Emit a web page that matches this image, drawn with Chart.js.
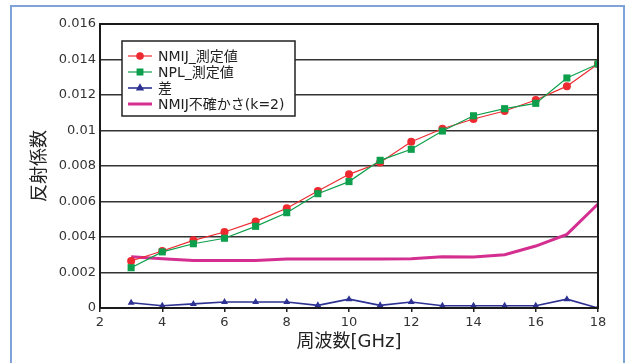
<!DOCTYPE html>
<html lang="ja">
<head>
<meta charset="utf-8">
<script src="https://cdn.jsdelivr.net/npm/chart.js@4.4.1/dist/chart.umd.min.js"></script>
<style>
  html, body { margin: 0; padding: 0; background: #fff; }
  #wrap { position: relative; width: 627px; height: 363px; overflow: hidden; }
  #frame { position: absolute; left: 10px; top: 5px; width: 611px; height: 400px; border: 2px solid #7fa2d8; }
  #chart { position: absolute; left: 0; top: 0; }
</style>
</head>
<body>
<div id="wrap">
  <div id="frame"></div>
  <canvas id="chart" width="627" height="363"></canvas>
</div>
<script>
// 周波数 [GHz]
const freqs = [3, 4, 5, 6, 7, 8, 9, 10, 11, 12, 13, 14, 15, 16, 17, 18];
// 反射係数
const nmij = [0.00265, 0.00321, 0.00381, 0.00428, 0.00488, 0.00562, 0.00659, 0.00753, 0.0082, 0.00937, 0.0101, 0.01065, 0.0111, 0.01172, 0.0125, 0.01375];
const npl = [0.00227, 0.00316, 0.00362, 0.00393, 0.0046, 0.00537, 0.00644, 0.00712, 0.00832, 0.00894, 0.00997, 0.01083, 0.01123, 0.01153, 0.01296, 0.01375];
const diff = [0.0003, 0.00013, 0.00023, 0.00034, 0.00034, 0.00034, 0.00015, 0.0005, 0.00015, 0.00034, 0.00013, 0.00013, 0.00013, 0.00013, 0.0005, 0.0];
const nmijU = [0.00289, 0.00278, 0.00268, 0.00268, 0.00268, 0.00276, 0.00276, 0.00276, 0.00276, 0.00278, 0.00289, 0.00287, 0.003, 0.00349, 0.00415, 0.00586];

const xTicks = [2, 4, 6, 8, 10, 12, 14, 16, 18];
const yTicks = [0, 0.002, 0.004, 0.006, 0.008, 0.01, 0.012, 0.014, 0.016];
const yTickLabels = ['0', '0.002', '0.004', '0.006', '0.008', '0.01', '0.012', '0.014', '0.016'];

const FONT = '"DejaVu Sans", "Noto Sans CJK JP", sans-serif';
const toPoints = arr => arr.map((v, i) => ({ x: freqs[i], y: v }));

// black box round the plot area
const plotBox = {
  id: 'plotBox',
  afterDraw(chart) {
    const { ctx, chartArea: a } = chart;
    ctx.save();
    ctx.strokeStyle = '#1a1a1a';
    ctx.lineWidth = 2;
    ctx.strokeRect(a.left, a.top, a.right - a.left, a.bottom - a.top);
    ctx.restore();
  }
};

// legend drawn as a framed box inside the plot
const legendBox = {
  id: 'legendBox',
  afterDraw(chart) {
    const c = chart.ctx;
    const x = 122, y = 41, w = 173, h = 75;
    c.save();
    c.fillStyle = '#fff';
    c.fillRect(x, y, w, h);
    c.strokeStyle = '#222';
    c.lineWidth = 1.5;
    c.strokeRect(x, y, w, h);
    c.font = '14px ' + FONT;
    c.textBaseline = 'middle';
    chart.data.datasets.forEach((ds, i) => {
      const ry = y + 15 + i * 16;
      c.strokeStyle = ds.borderColor;
      c.lineWidth = ds.borderWidth;
      c.beginPath();
      c.moveTo(x + 6, ry);
      c.lineTo(x + 30, ry);
      c.stroke();
      if (ds.pointRadius > 0) {
        Chart.helpers.drawPoint(c, {
          pointStyle: ds.pointStyle,
          radius: ds.pointRadius * 0.8,
          rotation: 0,
          borderWidth: 1
        }, x + 18, ry);
        c.fillStyle = ds.borderColor;
        c.fill();
      }
      c.fillStyle = '#222';
      c.fillText(ds.label, x + 36, ry + 1);
    });
    c.restore();
  }
};

new Chart(document.getElementById('chart').getContext('2d'), {
  type: 'line',
  data: {
    datasets: [
      {
        label: 'NMIJ_測定値',
        data: toPoints(nmij),
        borderColor: '#ec2a30',
        backgroundColor: '#ec2a30',
        borderWidth: 1.2,
        pointStyle: 'circle',
        pointRadius: 4,
        pointBorderWidth: 0,
        order: 1
      },
      {
        label: 'NPL_測定値',
        data: toPoints(npl),
        borderColor: '#0d9f4c',
        backgroundColor: '#0d9f4c',
        borderWidth: 1.2,
        pointStyle: 'rect',
        pointRadius: 5,
        pointBorderWidth: 0,
        order: 0
      },
      {
        label: '差',
        data: toPoints(diff),
        borderColor: '#2c3192',
        backgroundColor: '#2c3192',
        borderWidth: 1.6,
        pointStyle: 'triangle',
        pointRadius: 4,
        pointBorderWidth: 0,
        order: 2
      },
      {
        label: 'NMIJ不確かさ(k=2)',
        data: toPoints(nmijU),
        borderColor: '#d42f90',
        backgroundColor: '#d42f90',
        borderWidth: 3,
        pointRadius: 0,
        order: 3
      }
    ]
  },
  options: {
    responsive: false,
    animation: false,
    layout: { padding: { left: 0, right: 29, top: 24, bottom: 0 } },
    plugins: {
      legend: { display: false },
      tooltip: { enabled: false }
    },
    scales: {
      x: {
        type: 'linear',
        min: 2,
        max: 18,
        afterBuildTicks: s => { s.ticks = xTicks.map(v => ({ value: v })); },
        afterFit: s => { s.height = 55; },
        grid: { drawOnChartArea: false, drawTicks: true, tickLength: 4, color: '#222', lineWidth: 1.5 },
        border: { color: '#1a1a1a', width: 2 },
        ticks: { color: '#333', font: { family: FONT, size: 13 }, padding: 3, maxRotation: 0 },
        title: { display: true, text: '周波数[GHz]', color: '#222', font: { family: FONT, size: 18 }, padding: { top: 0, bottom: 10 } }
      },
      y: {
        min: 0,
        max: 0.016,
        afterBuildTicks: s => { s.ticks = yTicks.map(v => ({ value: v })); },
        afterFit: s => { s.width = 100; },
        grid: { color: '#333', lineWidth: 1.5, drawTicks: false },
        border: { color: '#1a1a1a', width: 2 },
        ticks: { color: '#333', font: { family: FONT, size: 13 }, padding: 4, callback: (v, i) => yTickLabels[i] },
        title: { display: true, text: '反射係数', color: '#222', font: { family: FONT, size: 18 }, padding: { top: 30, bottom: 0 } }
      }
    }
  },
  plugins: [plotBox, legendBox]
});
</script>
</body>
</html>
